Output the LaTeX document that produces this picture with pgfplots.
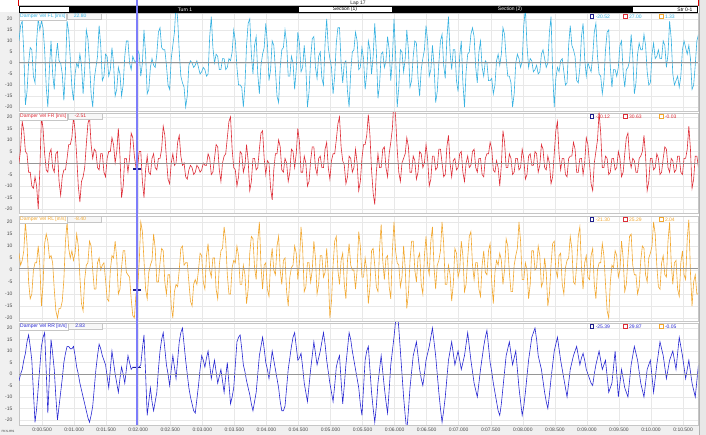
\documentclass[border=0pt]{standalone}
\usepackage{fontspec}
\setmainfont{Liberation Sans}
\usepackage{pgfplots}
\pgfplotsset{compat=1.18}
\usepackage{pgfplotstable}

\definecolor{cFL}{RGB}{55,178,225}
\definecolor{cFR}{RGB}{222,45,55}
\definecolor{cRL}{RGB}{242,168,48}
\definecolor{cRR}{RGB}{40,40,210}
\definecolor{gridc}{RGB}{232,232,232}
\definecolor{zeroc}{RGB}{150,150,150}
\definecolor{cursorc}{RGB}{125,125,250}
\definecolor{navyc}{RGB}{30,30,140}
\definecolor{marg}{RGB}{240,240,240}
\newcommand{\lbl}{\fontsize{5}{6}\selectfont}

\pgfplotstableread{
FL FR RL RR
10 0 7 -3
17 6 2 0
19 18 4 2
5 14 8 6
-19 5 20 9
-13 4 11 14
0 -4 -5 17
7 -4 -12 12
6 -10 -10 6
-6 -11 0 -8
-9 -6 3 -21
10 -10 3 -15
20 -20 10 -6
15 -3 2 3
19 20 -15 12
16 15 -6 16
6 4 11 18
-11 -3 15 1
-20 -4 12 -17
-2 4 5 -1
10 6 6 15
-5 -2 3 9
-12 -4 -8 2
2 4 -17 -10
9 5 -20 -20
1 -8 -16 -14
0 -14 -16 -8
-5 -6 -13 -2
-17 -3 -4 5
-3 -3 12 9
19 2 20 12
14 8 9 12
2 8 5 11
-11 11 8 11
-17 20 4 12
-5 14 7 8
0 3 15 3
-2 -10 10 0
4 -17 -3 -4
-1 -8 -14 -7
-14 -6 -17 -10
-3 -2 -4 -13
15 8 2 -16
11 17 3 -19
0 20 12 -21
-14 8 10 -18
-20 2 0 -14
-7 6 -8 -6
-2 5 -8 2
3 -2 3 8
17 -3 5 13
8 4 0 11
-8 4 2 8
-6 -4 3 6
4 -6 -4 4
3 2 -12 -1
-6 5 -13 -6
-3 5 0 2
7 11 6 10
0 8 5 5
-15 0 12 0
-12 5 5 -4
-2 15 -10 -8
-5 3 -8 -2
-15 -15 1 3
-10 -10 8 0
3 2 8 -4
10 2 -1 2
10 -4 -2 8
0 2 -3 5
-3 13 -12 2
3 11 -19 3
1 3 -20 3
0 -2 -10 3
6 -2 -8 3
4 5 3 3
-6 5 20 4
0 -8 16 11
15 -15 4 17
4 -3 -8 0
-14 3 -12 -18
-12 -4 -1 -12
-2 -5 2 -6
2 2 4 -12
-1 4 15 -16
-2 -2 9 -12
4 -3 -5 -8
14 2 -5 2
16 2 3 10
7 6 9 15
6 16 8 18
6 12 -5 11
-1 2 -10 4
-10 -7 -2 0
-12 -9 -2 -5
2 0 -15 2
8 4 -20 8
14 -1 -9 3
27 0 -6 -2
20 9 -7 6
5 12 0 14
-6 3 9 18
-9 -1 10 20
-11 0 2 13
-20 -6 3 6
-15 -7 3 0
-1 -3 -5 -6
1 -1 -13 -10
0 -2 -15 -13
-2 -5 -6 -16
-1 -4 -4 -17
1 -1 -6 -11
-2 -2 0 -5
-5 -4 7 2
-4 -3 6 8
-2 0 -5 6
-3 -1 -8 3
-6 -1 6 7
-5 4 11 10
12 2 0 4
21 -5 -3 -2
7 -4 5 2
0 2 5 6
4 8 -8 1
3 7 -12 -4
-3 -3 2 -1
-3 -8 8 2
2 0 9 -3
2 3 18 -8
-3 4 12 -1
-2 11 -2 5
2 18 -10 -4
1 20 -10 -13
5 6 1 -10
15 -2 4 -6
10 -3 3 4
-2 -10 10 14
-10 -6 6 16
-10 5 -6 17
-11 4 -6 11
-20 -4 2 4
-10 -1 -2 1
8 8 -14 -3
18 1 -8 -6
20 -12 7 -9
4 -8 14 -13
-5 2 13 -16
8 2 1 -12
12 -3 -4 -8
-5 -2 12 0
-14 6 20 8
-1 13 2 12
4 14 -8 16
7 2 2 11
18 -5 3 5
9 1 -8 2
-8 0 -11 -2
-3 -11 3 4
10 -16 9 10
8 -3 0 6
-3 4 -2 2
-15 4 10 -2
-18 10 14 -6
-2 7 0 -12
6 -3 -6 -16
7 -4 4 -16
15 2 5 -14
9 0 -9 -6
-6 -8 -15 2
-6 -4 -3 7
3 6 1 12
0 5 2 16
-12 -2 10 18
-3 4 7 12
14 15 -4 6
9 9 3 7
-4 -4 18 9
-2 -4 9 3
8 3 -9 -4
-2 0 -7 -8
-20 -10 3 -12
-13 -8 3 -5
2 1 -5 2
11 7 0 8
12 7 12 14
-2 -2 5 9
-7 -5 -10 4
3 2 -6 7
5 3 6 10
-7 -2 6 14
-10 -2 -3 18
9 6 -1 13
20 9 9 6
7 -2 -2 1
2 -7 -20 -4
-2 1 -13 -8
-14 4 2 -12
-6 4 12 -5
9 10 14 3
16 17 0 6
16 20 -6 8
0 7 4 -3
-9 1 7 -13
0 -1 -6 -5
1 -9 -12 4
-13 -6 4 11
-20 3 11 18
-4 2 2 15
5 -4 0 10
6 -2 0 6
14 6 -8 2
10 0 0 -2
-3 -12 16 -6
-2 -8 10 -13
7 2 -3 -18
2 8 -3 -6
-12 8 5 6
-5 12 0 10
10 21 -14 12
6 12 -7 2
-5 -3 8 -8
3 -13 9 -15
18 -18 2 -21
5 -4 -7 -14
-16 4 -9 -4
-10 -2 9 2
4 -2 19 8
5 6 4 1
-2 7 -4 -6
1 -2 5 -12
12 -6 6 -17
6 4 -7 -7
-8 9 -12 4
2 15 8 10
20 28 20 16
4 20 8 23
-20 6 3 28
-11 -4 2 20
6 -8 -7 10
5 0 -3 0
-4 2 10 -10
2 4 1 -18
15 11 -16 -25
6 7 -10 -16
-11 -4 4 -6
-8 -4 12 1
3 3 12 8
10 1 0 11
9 -7 -5 14
-7 -4 5 8
-15 5 7 2
-3 4 -6 -2
2 -2 -10 -5
6 0 6 0
17 8 14 6
10 2 2 9
-6 -10 -2 12
-3 -7 12 16
8 3 18 20
-1 3 1 14
-18 -3 -8 8
-13 -2 2 0
0 6 4 -8
10 6 8 -15
13 0 20 -21
-1 -6 11 -16
-7 -5 -6 -10
11 7 -6 -2
21 12 2 6
5 0 -2 10
-3 -6 -13 14
6 1 -6 9
6 2 9 4
-8 -3 7 7
-13 -2 -3 10
3 4 0 6
10 5 12 2
-9 -4 6 5
-20 -8 -9 8
-4 0 -6 13
4 3 5 18
5 -2 14 12
13 -1 16 6
16 5 2 1
12 6 -4 -4
-2 -2 3 -7
-9 -4 3 -10
5 2 -8 -4
10 2 -11 2
-2 -5 2 7
-6 -6 8 12
1 2 -1 16
0 4 -2 19
-8 4 8 12
-8 9 11 5
-7 6 -5 1
-14 -3 -14 -4
-10 -4 -1 -8
1 1 4 -12
4 -2 2 -16
-1 -10 7 -18
4 -1 4 -13
16 14 -6 -6
13 9 0 1
2 -2 13 8
-6 -2 10 11
-6 4 -1 14
-9 2 -9 9
-20 -5 -9 4
-14 -4 2 7
0 2 6 10
4 2 9 2
2 -3 20 -6
-2 -2 12 -12
1 6 -4 -18
17 2 -4 -14
25 -7 3 -8
8 -5 0 -1
-2 3 -12 6
2 4 -6 11
1 -1 8 16
-4 -1 8 18
-3 5 0 20
-1 4 1 15
-5 -4 10 8
-4 -1 6 5
4 8 -7 2
6 6 -5 -3
2 -2 5 -8
-2 -3 -1 -12
0 3 -15 -15
14 0 -10 -9
21 -9 2 -2
-4 -6 11 4
-20 4 12 10
-7 14 0 13
-2 18 -3 16
-4 4 6 11
1 -3 7 6
2 2 -6 2
-4 2 -10 -2
-10 -5 1 -6
-9 -6 4 -10
8 2 5 -4
17 3 14 2
8 3 9 5
6 9 -5 8
3 6 -6 10
-8 -4 2 12
-9 -4 14 8
-2 2 18 4
12 2 1 7
18 -5 -8 9
2 0 3 6
-6 11 6 2
0 8 -3 0
-2 0 -4 -2
-4 -9 6 -4
3 -12 9 -5
14 0 -6 0
18 5 -12 4
3 10 0 7
-5 22 3 10
-6 13 3 6
-14 -2 11 2
-8 -2 6 4
6 3 -6 6
14 2 -17 -1
15 -5 -20 -8
-2 -4 -5 -6
-11 2 2 -4
-3 2 1 3
-3 -3 8 10
-6 -2 6 0
-2 5 -3 -10
8 2 0 -4
10 -6 12 2
-4 -4 5 -2
-11 4 -9 -6
-3 11 -6 -8
-2 13 5 -10
1 2 14 -3
13 -2 15 4
3 2 2 8
-14 1 -2 12
-9 -4 -2 9
4 -4 -10 6
9 2 -7 1
6 3 4 -4
6 5 10 -7
13 12 9 -10
8 3 -2 -4
-4 -12 -5 2
-10 -8 5 4
-9 2 7 6
4 2 10 -1
9 -3 20 -8
2 -2 15 -2
3 4 2 4
6 2 -7 9
2 -5 -8 14
2 -4 3 11
10 2 6 8
8 7 -2 3
-2 6 -3 -2
4 -2 12 2
19 -4 20 6
11 2 3 8
-5 1 -6 10
-10 -4 3 6
-8 -3 4 2
-6 3 -8 9
-11 3 -11 16
-6 -4 3 12
6 -5 8 8
10 2 -2 3
7 2 -4 -2
4 6 13 2
8 16 21 6
2 6 -1 1
-12 -11 -15 -4
-10 -7 -5 -7
-1 3 -2 -10
10 3 -10 -3
13 -2 -10 4
}\damper

\pgfplotsset{
  panel/.style={
    scale only axis, width=679pt,
    xmin=0.14, xmax=10.733,
    xtick={0.5,1,1.5,2,2.5,3,3.5,4,4.5,5,5.5,6,6.5,7,7.5,8,8.5,9,9.5,10,10.5},
    ytick={-20,-15,-10,-5,0,5,10,15,20},
    yticklabels={-20,-15,-10,-5,0,5,10,15,20},
    scaled y ticks=false,
    xticklabels={},
    grid=major,
    major grid style={gridc, line width=0.5pt},
    major tick length=0pt,
    axis line style={draw=gray!45, line width=0.8pt},
    yticklabel style={font=\lbl, text=gray!60!black, anchor=east, xshift=-3pt},
    xticklabel style={font=\lbl, text=gray!60!black},
    axis background/.style={fill=white},
    clip=true,
  },
  trace/.style={line width=0.6pt, #1},
}

\newcommand{\panelhead}[6]{%
  \draw[zeroc, line width=0.5pt] (rel axis cs:0,0.5) -- (rel axis cs:1,0.5);
  \node[anchor=north west, draw=gray!45, fill=white, inner sep=1pt, font=\lbl, text=#1] (h) at (rel axis cs:0,1) {#2};
  \node[anchor=north west, draw=gray!45, fill=gray!6, inner sep=1pt, font=\lbl, text=#1, text width=32pt, align=left] at (h.north east) {\hspace*{6pt}#3};
  \node[draw=navyc, fill=white, line width=0.9pt, inner sep=0pt, minimum size=3.4pt] at ([yshift=-3.5pt]rel axis cs:0.844,1) {};
  \node[anchor=west, font=\lbl, text=#1, inner sep=0pt] at ([yshift=-3.5pt,xshift=3.5pt]rel axis cs:0.844,1) {#4};
  \node[draw=cFR, fill=white, line width=0.9pt, inner sep=0pt, minimum size=3.4pt] at ([yshift=-3.5pt]rel axis cs:0.893,1) {};
  \node[anchor=west, font=\lbl, text=#1, inner sep=0pt] at ([yshift=-3.5pt,xshift=3.5pt]rel axis cs:0.893,1) {#5};
  \node[draw=cRL, fill=white, line width=0.9pt, inner sep=0pt, minimum size=3.4pt] at ([yshift=-3.5pt]rel axis cs:0.946,1) {};
  \node[anchor=west, font=\lbl, text=#1, inner sep=0pt] at ([yshift=-3.5pt,xshift=3.5pt]rel axis cs:0.946,1) {#6};
}

\begin{document}
\begin{tikzpicture}[x=1pt,y=1pt]
\useasboundingbox (0,0) rectangle (706,435);
\fill[white] (0,0) rectangle (706,435);
\fill[marg] (0,0) rectangle (19,423);
\fill[marg] (0,0) rectangle (706,10);
\fill[gray!18] (699,0) rectangle (706,435);
\draw[gray!60, line width=1pt] (699,0) -- (699,435);

% panel 1 (FL)
\begin{axis}[panel, at={(19pt,324pt)}, anchor=south west, height=98pt, ymin=-21.8, ymax=22.7]
  \addplot[trace=cFL] table[x expr=\coordindex*0.025+0.14, y=FL] {\damper};
  \panelhead{cFL}{Damper Vel FL [in/s]}{22.80}{-20.52}{27.00}{1.33}
\end{axis}

% panel 2 (FR)
\begin{axis}[panel, at={(19pt,222pt)}, anchor=south west, height=100pt, ymin=-21.7, ymax=21.7]
  \addplot[trace=cFR] table[x expr=\coordindex*0.025+0.14, y=FR] {\damper};
  \addplot[navyc, mark=-, mark size=4pt, mark options={line width=1.6pt}] coordinates {(1.981,-2.51)};
  \panelhead{cFR}{Damper Vel FR [in/s]}{-2.51}{-20.12}{30.63}{-0.03}
\end{axis}

% panel 3 (RL)
\begin{axis}[panel, at={(19pt,114pt)}, anchor=south west, height=105pt, ymin=-21.25, ymax=22.5]
  \addplot[trace=cRL] table[x expr=\coordindex*0.025+0.14, y=RL] {\damper};
  \addplot[navyc, mark=-, mark size=4pt, mark options={line width=1.6pt}] coordinates {(1.981,-8.40)};
  \panelhead{cRL}{Damper Vel RL [in/s]}{-8.40}{-21.30}{25.29}{2.04}
\end{axis}

% panel 4 (RR)
\begin{axis}[panel, at={(19pt,10pt)}, anchor=south west, height=102pt, ymin=-22.2, ymax=22.2,
  xticklabels={0:00.500,0:01.000,0:01.500,0:02.000,0:02.500,0:03.000,0:03.500,0:04.000,0:04.500,0:05.000,0:05.500,0:06.000,0:06.500,0:07.000,0:07.500,0:08.000,0:08.500,0:09.000,0:09.500,0:10.000,0:10.500},
  xticklabel style={yshift=0.5pt}]
  \addplot[trace=cRR] table[x expr=\coordindex*0.025+0.14, y=RR] {\damper};
  \addplot[navyc, mark=-, mark size=4pt, mark options={line width=1.6pt}] coordinates {(1.981,2.83)};
  \panelhead{cRR}{Damper Vel RR [in/s]}{2.83}{-25.39}{29.87}{-0.05}
\end{axis}

% top bar
\node[font=\lbl, text=gray!30!black] at (358,431.5) {Lap 17};
\draw[gray!50, line width=0.6pt] (19,429.5) -- (698,429.5);
\fill[black] (19,422) rectangle (698,429);
\fill[white] (20,423) rectangle (69,428);
\fill[white] (299,423) rectangle (392,428);
\fill[white] (633,423) rectangle (697,428);
\node[font=\lbl, text=white] at (185,425.5) {Turn 1};
\node[font=\lbl, text=black] at (345,425.5) {Section (1)};
\node[font=\lbl, text=white] at (510,425.5) {Section (2)};
\node[font=\lbl, text=black, anchor=east] at (696,425.5) {Str 0-1};
\draw[red!85!black, line width=1pt] (18,429) -- (18,435);
\draw[red!85!black, line width=1pt] (698,429) -- (698,435);

% cursor
\draw[cursorc, line width=1.3pt] (137,10) -- (137,435);

\node[font=\fontsize{4}{5}\selectfont, text=gray!60!black] at (8,3.5) {m:s.ms};
\end{tikzpicture}
\end{document}
